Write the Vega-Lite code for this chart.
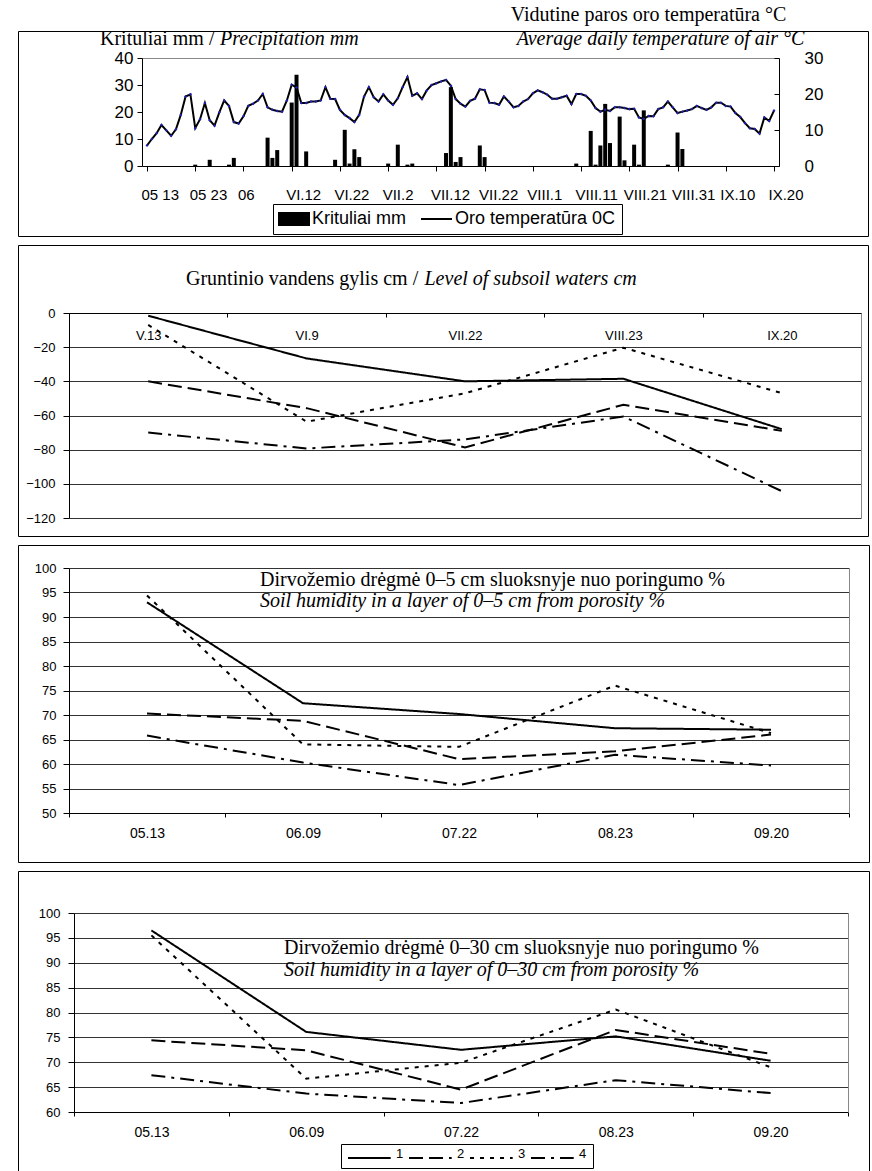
{
  "$schema": "https://vega.github.io/schema/vega-lite/v6.json",
  "background": "white",
  "padding": {"left": 17, "top": 3, "right": 2, "bottom": 0},
  "spacing": 9,
  "bounds": "flush",
  "config": {
    "view": {"stroke": "black", "strokeWidth": 1},
    "font": "Liberation Sans",
    "axis": {"labelFont": "Liberation Sans", "labelColor": "black", "titleFont": "Liberation Serif", "titleColor": "black", "titleFontWeight": "normal", "titleFontSize": 20, "domainColor": "black", "tickColor": "black", "grid": false, "titlePadding": 0},
    "legend": {"labelFont": "Liberation Sans", "labelColor": "black"}
  },
  "datasets": {
    "temp": [
      {"day":0,"temp":5.7},{"day":1,"temp":7.5},{"day":2,"temp":9.1},{"day":3,"temp":11.4},{"day":4,"temp":9.9},{"day":5,"temp":8.4},{"day":6,"temp":10.2},{"day":7,"temp":14.2},{"day":8,"temp":19.3},{"day":9,"temp":19.9},
      {"day":10,"temp":10.5},{"day":11,"temp":13.0},{"day":12,"temp":17.5},{"day":13,"temp":12.7},{"day":14,"temp":11.2},{"day":15,"temp":14.9},{"day":16,"temp":18.2},{"day":17,"temp":16.7},{"day":18,"temp":12.2},{"day":19,"temp":11.8},
      {"day":20,"temp":13.8},{"day":21,"temp":16.7},{"day":22,"temp":17.3},{"day":23,"temp":18.2},{"day":24,"temp":20.0},{"day":25,"temp":16.3},{"day":26,"temp":15.6},{"day":27,"temp":15.3},{"day":28,"temp":15.1},{"day":29,"temp":18.2},
      {"day":30,"temp":22.6},{"day":31,"temp":21.8},{"day":32,"temp":17.5},{"day":33,"temp":17.5},{"day":34,"temp":17.9},{"day":35,"temp":17.9},{"day":36,"temp":18.2},{"day":37,"temp":21.9},{"day":38,"temp":18.7},{"day":39,"temp":18.6},
      {"day":40,"temp":15.6},{"day":41,"temp":14.2},{"day":42,"temp":13.3},{"day":43,"temp":12.2},{"day":44,"temp":14.2},{"day":45,"temp":19.3},{"day":46,"temp":21.9},{"day":47,"temp":19.1},{"day":48,"temp":17.9},{"day":49,"temp":19.9},
      {"day":50,"temp":18.2},{"day":51,"temp":17.0},{"day":52,"temp":18.8},{"day":53,"temp":21.9},{"day":54,"temp":24.7},{"day":55,"temp":19.5},{"day":56,"temp":20.2},{"day":57,"temp":18.6},{"day":58,"temp":21.0},{"day":59,"temp":22.5},
      {"day":60,"temp":23.0},{"day":61,"temp":23.5},{"day":62,"temp":23.9},{"day":63,"temp":22.3},{"day":64,"temp":18.6},{"day":65,"temp":17.3},{"day":66,"temp":16.5},{"day":67,"temp":18.1},{"day":68,"temp":18.7},{"day":69,"temp":21.3},
      {"day":70,"temp":21.1},{"day":71,"temp":17.6},{"day":72,"temp":17.5},{"day":73,"temp":17.0},{"day":74,"temp":19.3},{"day":75,"temp":17.9},{"day":76,"temp":16.3},{"day":77,"temp":16.7},{"day":78,"temp":17.9},{"day":79,"temp":18.6},
      {"day":80,"temp":20.2},{"day":81,"temp":21.0},{"day":82,"temp":20.5},{"day":83,"temp":19.8},{"day":84,"temp":18.7},{"day":85,"temp":18.7},{"day":86,"temp":19.1},{"day":87,"temp":19.5},{"day":88,"temp":17.2},{"day":89,"temp":20.0},
      {"day":90,"temp":20.0},{"day":91,"temp":19.5},{"day":92,"temp":18.2},{"day":93,"temp":16.1},{"day":94,"temp":15.1},{"day":95,"temp":15.6},{"day":96,"temp":15.3},{"day":97,"temp":16.3},{"day":98,"temp":16.3},{"day":99,"temp":16.1},
      {"day":100,"temp":15.8},{"day":101,"temp":15.9},{"day":102,"temp":13.5},{"day":103,"temp":13.1},{"day":104,"temp":13.9},{"day":105,"temp":13.8},{"day":106,"temp":15.8},{"day":107,"temp":16.3},{"day":108,"temp":17.9},{"day":109,"temp":16.3},
      {"day":110,"temp":14.7},{"day":111,"temp":15.1},{"day":112,"temp":15.4},{"day":113,"temp":15.8},{"day":114,"temp":16.7},{"day":115,"temp":16.1},{"day":116,"temp":15.6},{"day":117,"temp":16.3},{"day":118,"temp":17.6},{"day":119,"temp":17.6},
      {"day":120,"temp":16.7},{"day":121,"temp":16.5},{"day":122,"temp":14.7},{"day":123,"temp":13.6},{"day":124,"temp":11.9},{"day":125,"temp":10.5},{"day":126,"temp":10.3},{"day":127,"temp":9.0},{"day":128,"temp":13.5},{"day":129,"temp":12.5},
      {"day":130,"temp":15.4}
    ],
    "precip": [
      {"day":10,"mm":0.5},{"day":13,"mm":2.3},{"day":17,"mm":0.5},{"day":18,"mm":3.0},{"day":25,"mm":10.5},{"day":26,"mm":3.0},{"day":27,"mm":5.9},
      {"day":30,"mm":23.5},{"day":31,"mm":33.8},{"day":33,"mm":5.4},{"day":39,"mm":2.3},{"day":41,"mm":13.4},{"day":42,"mm":0.9},{"day":43,"mm":6.2},{"day":44,"mm":3.3},
      {"day":50,"mm":0.9},{"day":52,"mm":7.9},{"day":54,"mm":0.5},{"day":55,"mm":0.9},{"day":62,"mm":4.8},{"day":63,"mm":29.2},{"day":64,"mm":1.5},{"day":65,"mm":3.3},
      {"day":69,"mm":7.6},{"day":70,"mm":3.3},{"day":89,"mm":0.9},{"day":92,"mm":13.0},{"day":93,"mm":0.5},{"day":94,"mm":7.6},{"day":95,"mm":23.0},{"day":96,"mm":8.5},
      {"day":98,"mm":18.3},{"day":99,"mm":2.1},{"day":101,"mm":7.9},{"day":102,"mm":0.5},{"day":103,"mm":20.6},{"day":108,"mm":0.5},{"day":110,"mm":12.4},{"day":111,"mm":6.3}
    ],
    "gw": [
      {"date":"V.13","series":"1","cm":-1.6},{"date":"VI.9","series":"1","cm":-26.6},{"date":"VII.22","series":"1","cm":-40},{"date":"VIII.23","series":"1","cm":-38.5},{"date":"IX.20","series":"1","cm":-68},
      {"date":"V.13","series":"2","cm":-40},{"date":"VI.9","series":"2","cm":-55.7},{"date":"VII.22","series":"2","cm":-78.7},{"date":"VIII.23","series":"2","cm":-53.7},{"date":"IX.20","series":"2","cm":-69},
      {"date":"V.13","series":"3","cm":-7},{"date":"VI.9","series":"3","cm":-63.6},{"date":"VII.22","series":"3","cm":-47},{"date":"VIII.23","series":"3","cm":-20.3},{"date":"IX.20","series":"3","cm":-46.9},
      {"date":"V.13","series":"4","cm":-70},{"date":"VI.9","series":"4","cm":-79.3},{"date":"VII.22","series":"4","cm":-74},{"date":"VIII.23","series":"4","cm":-60.6},{"date":"IX.20","series":"4","cm":-104.3}
    ],
    "h5": [
      {"date":"05.13","series":"1","pct":93.0},{"date":"06.09","series":"1","pct":72.4},{"date":"07.22","series":"1","pct":70.2},{"date":"08.23","series":"1","pct":67.3},{"date":"09.20","series":"1","pct":67.0},
      {"date":"05.13","series":"2","pct":70.3},{"date":"06.09","series":"2","pct":68.8},{"date":"07.22","series":"2","pct":61.0},{"date":"08.23","series":"2","pct":62.6},{"date":"09.20","series":"2","pct":66.0},
      {"date":"05.13","series":"3","pct":94.4},{"date":"06.09","series":"3","pct":64.0},{"date":"07.22","series":"3","pct":63.5},{"date":"08.23","series":"3","pct":76.0},{"date":"09.20","series":"3","pct":66.3},
      {"date":"05.13","series":"4","pct":65.8},{"date":"06.09","series":"4","pct":60.3},{"date":"07.22","series":"4","pct":55.7},{"date":"08.23","series":"4","pct":61.9},{"date":"09.20","series":"4","pct":59.7}
    ],
    "h30": [
      {"date":"05.13","series":"1","pct":96.5},{"date":"06.09","series":"1","pct":76.1},{"date":"07.22","series":"1","pct":72.5},{"date":"08.23","series":"1","pct":75.2},{"date":"09.20","series":"1","pct":70.3},
      {"date":"05.13","series":"2","pct":74.4},{"date":"06.09","series":"2","pct":72.4},{"date":"07.22","series":"2","pct":64.5},{"date":"08.23","series":"2","pct":76.5},{"date":"09.20","series":"2","pct":71.7},
      {"date":"05.13","series":"3","pct":95.5},{"date":"06.09","series":"3","pct":66.7},{"date":"07.22","series":"3","pct":69.9},{"date":"08.23","series":"3","pct":80.6},{"date":"09.20","series":"3","pct":69.0},
      {"date":"05.13","series":"4","pct":67.4},{"date":"06.09","series":"4","pct":63.7},{"date":"07.22","series":"4","pct":61.8},{"date":"08.23","series":"4","pct":66.4},{"date":"09.20","series":"4","pct":63.8}
    ]
  },
  "vconcat": [
    {
      "width": 850,
      "height": 205,
      "layer": [
        {
          "data": {"name": "precip"},
          "mark": {"type": "bar", "width": 4},
          "encoding": {
            "x": {"field": "day", "type": "quantitative",
              "scale": {"domain": [0, 130], "range": [124, 761], "nice": false, "zero": false},
              "axis": {"orient": "bottom", "offset": -70, "values": [0,10,20,30,40,50,60,70,80,90,100,110,120,130],
                "labelExpr": "['05 13','05 23','06','VI.12','VI.22','VII.2','VII.12','VII.22','VIII.1','VIII.11','VIII.21','VIII.31','IX.10','IX.20'][round(datum.value / 10)]",
                "labelAlign": "left", "labelOffset": -6, "labelFlush": false, "labelOverlap": false, "labelFontSize": 15, "labelPadding": 16, "tickSize": 5,
                "title": "Precipitation mm", "titleFontStyle": "italic", "titleX": 201.5, "titleY": -121.5, "titleAlign": "left", "titleBaseline": "alphabetic", "titleAngle": 0}},
            "y": {"field": "mm", "type": "quantitative",
              "scale": {"domain": [0, 40], "range": [135, 27], "nice": false},
              "axis": {"orient": "left", "offset": -124, "values": [0,10,20,30,40], "tickSize": 5, "labelFontSize": 17, "labelPadding": 4,
                "title": "Krituliai mm /", "titleX": -42.5, "titleY": 13.5, "titleAlign": "left", "titleBaseline": "alphabetic", "titleAngle": 0}},
            "color": {"datum": "Krituliai mm", "type": "nominal",
              "scale": {"domain": ["Krituliai mm", "Oro temperatūra 0C"], "range": ["black", "black"]},
              "legend": {"orient": "none", "legendX": 255, "legendY": 173, "direction": "horizontal", "title": null,
                "strokeColor": "black", "fillColor": "white", "padding": 6, "labelFontSize": 18, "labelOffset": 15, "columnPadding": 10,
                "symbolSize": 400, "labelLimit": 300,
                "encode": {"symbols": {"update": {
                  "shape": {"signal": "datum.value === 'Krituliai mm' ? 'M-1,-0.7L2.2,-0.7L2.2,0.7L-1,0.7Z' : 'M-1,0L2.1,0'"},
                  "fill": {"signal": "datum.value === 'Krituliai mm' ? 'black' : 'transparent'"},
                  "stroke": {"value": "black"},
                  "strokeWidth": {"signal": "datum.value === 'Krituliai mm' ? 0 : 2"},
                  "size": {"value": 400},
                  "opacity": {"value": 1}
                }}}}}
          }
        },
        {
          "data": {"name": "temp"},
          "mark": {"type": "line", "color": "black", "strokeWidth": 2, "point": {"filled": true, "color": "#2020b8", "size": 9, "shape": "diamond"}},
          "encoding": {
            "x": {"field": "day", "type": "quantitative",
              "scale": {"domain": [0, 130], "range": [124, 761], "nice": false, "zero": false},
              "axis": {"orient": "top", "offset": -27, "ticks": false, "labels": false, "grid": false, "domainColor": "#888",
                "title": "Average daily temperature of air °C", "titleFontStyle": "italic", "titleX": 642, "titleY": -13.5, "titleAlign": "center", "titleBaseline": "alphabetic", "titleAngle": 0}},
            "y": {"field": "temp", "type": "quantitative",
              "scale": {"domain": [0, 30], "range": [135, 27], "nice": false},
              "axis": {"orient": "right", "offset": -89, "values": [0,10,20,30], "tickSize": -5, "labelPadding": 30, "labelFontSize": 17,
                "title": "Vidutine paros oro temperatūra °C", "titleX": -131, "titleY": -10.8, "titleAlign": "center", "titleBaseline": "alphabetic", "titleAngle": 0}}
          }
        }
      ],
      "resolve": {"scale": {"y": "independent"}, "axis": {"x": "independent", "y": "independent"}}
    },
    {
      "width": 850,
      "height": 291,
      "data": {"name": "gw"},
      "layer": [
        {
          "transform": [{"filter": "datum.series == '1' || datum.series == '2'"}],
          "mark": {"type": "line", "color": "black", "strokeWidth": 2},
          "encoding": {
            "x": {"field": "date", "type": "ordinal", "sort": ["V.13","VI.9","VII.22","VIII.23","IX.20"], "bandPosition": 0.5,
              "scale": {"type": "band", "domain": ["V.13","VI.9","VII.22","VIII.23","IX.20"], "range": [51, 843], "paddingInner": 0, "paddingOuter": 0},
              "axis": {"orient": "bottom", "offset": -223, "tickBand": "extent", "tickSize": 4, "labelPadding": 12, "labelFontSize": 13, "labelAngle": 0,
                "title": "Level of subsoil waters cm", "titleFontStyle": "italic", "titleX": 406, "titleY": -28.5, "titleAlign": "left", "titleBaseline": "alphabetic", "titleAngle": 0}},
            "y": {"field": "cm", "type": "quantitative",
              "scale": {"domain": [-120, 0], "range": [273, 68], "nice": false, "zero": false},
              "axis": {"orient": "left", "offset": -51, "values": [-120,-100,-80,-60,-40,-20,0], "grid": true, "gridColor": "#333", "tickSize": 6, "labelPadding": 8, "labelFontSize": 13,
                "title": "Gruntinio vandens gylis cm /", "titleX": 116.5, "titleY": 39.5, "titleAlign": "left", "titleBaseline": "alphabetic", "titleAngle": 0}},
            "strokeDash": {"field": "series", "type": "nominal", "scale": {"domain": ["1","2","3","4"], "range": [[1,0],[14,6],[4,6],[14,6,3,6]]},
              "legend": {"orient": "none", "legendX": 323, "legendY": 1113, "direction": "horizontal", "title": null, "strokeColor": "black", "fillColor": "white", "padding": 6,
                "symbolType": "M-1,0L5.1,0", "symbolSize": 196, "symbolStrokeWidth": 2, "symbolStrokeColor": "black", "symbolFillColor": "transparent",
                "labelFontSize": 13, "labelOffset": 33, "columnPadding": 1, "labelBaseline": "alphabetic"}}
          }
        },
        {
          "transform": [{"filter": "datum.series == '3' || datum.series == '4'"}],
          "mark": {"type": "line", "color": "black", "strokeWidth": 2},
          "encoding": {
            "x": {"field": "date", "type": "ordinal", "sort": ["V.13","VI.9","VII.22","VIII.23","IX.20"], "bandPosition": 0.5,
              "scale": {"type": "band", "domain": ["V.13","VI.9","VII.22","VIII.23","IX.20"], "range": [51, 843], "paddingInner": 0, "paddingOuter": 0},
              "axis": {"orient": "bottom", "offset": -223, "tickBand": "extent", "tickSize": 4, "labelPadding": 12, "labelFontSize": 13, "labelAngle": 0,
                "title": "Level of subsoil waters cm", "titleFontStyle": "italic", "titleX": 406, "titleY": -28.5, "titleAlign": "left", "titleBaseline": "alphabetic", "titleAngle": 0}},
            "y": {"field": "cm", "type": "quantitative",
              "scale": {"domain": [-120, 0], "range": [273, 68], "nice": false, "zero": false},
              "axis": {"orient": "right", "offset": -7, "ticks": false, "labels": false, "grid": false, "domainColor": "#888", "title": null}},
            "strokeDash": {"field": "series", "type": "nominal", "scale": {"domain": ["1","2","3","4"], "range": [[1,0],[14,6],[4,6],[14,6,3,6]]},
              "legend": {"orient": "none", "legendX": 323, "legendY": 1113, "direction": "horizontal", "title": null, "strokeColor": "black", "fillColor": "white", "padding": 6,
                "symbolType": "M-1,0L5.1,0", "symbolSize": 196, "symbolStrokeWidth": 2, "symbolStrokeColor": "black", "symbolFillColor": "transparent",
                "labelFontSize": 13, "labelOffset": 33, "columnPadding": 1, "labelBaseline": "alphabetic"}}
          }
        }
      ],
      "resolve": {"axis": {"y": "independent"}}
    },
    {
      "width": 851,
      "height": 317,
      "data": {"name": "h5"},
      "layer": [
        {
          "transform": [{"filter": "datum.series == '1' || datum.series == '2'"}],
          "mark": {"type": "line", "color": "black", "strokeWidth": 2},
          "encoding": {
            "x": {"field": "date", "type": "ordinal", "sort": ["05.13","06.09","07.22","08.23","09.20"], "bandPosition": 0.5,
              "scale": {"type": "band", "domain": ["05.13","06.09","07.22","08.23","09.20"], "range": [51, 831], "paddingInner": 0, "paddingOuter": 0},
              "axis": {"orient": "bottom", "offset": -49, "tickBand": "extent", "tickSize": 4, "labelPadding": 9, "labelFontSize": 14, "labelAngle": 0, "title": null}},
            "y": {"field": "pct", "type": "quantitative",
              "scale": {"domain": [50, 100], "range": [268, 23], "nice": false, "zero": false},
              "axis": {"orient": "left", "offset": -51, "values": [50,55,60,65,70,75,80,85,90,95,100], "grid": true, "gridColor": "#333", "tickSize": 6, "labelPadding": 7, "labelFontSize": 13,
                "title": "Dirvožemio drėgmė 0–5 cm sluoksnyje nuo poringumo %", "titleX": 190.5, "titleY": 40.2, "titleAlign": "left", "titleBaseline": "alphabetic", "titleAngle": 0, "titleLimit": 800}},
            "strokeDash": {"field": "series", "type": "nominal", "scale": {"domain": ["1","2","3","4"], "range": [[1,0],[14,6],[4,6],[14,6,3,6]]},
              "legend": {"orient": "none", "legendX": 323, "legendY": 1113, "direction": "horizontal", "title": null, "strokeColor": "black", "fillColor": "white", "padding": 6,
                "symbolType": "M-1,0L5.1,0", "symbolSize": 196, "symbolStrokeWidth": 2, "symbolStrokeColor": "black", "symbolFillColor": "transparent",
                "labelFontSize": 13, "labelOffset": 33, "columnPadding": 1, "labelBaseline": "alphabetic"}}
          }
        },
        {
          "transform": [{"filter": "datum.series == '3' || datum.series == '4'"}],
          "mark": {"type": "line", "color": "black", "strokeWidth": 2},
          "encoding": {
            "x": {"field": "date", "type": "ordinal", "sort": ["05.13","06.09","07.22","08.23","09.20"], "bandPosition": 0.5,
              "scale": {"type": "band", "domain": ["05.13","06.09","07.22","08.23","09.20"], "range": [51, 831], "paddingInner": 0, "paddingOuter": 0},
              "axis": {"orient": "bottom", "offset": -49, "tickBand": "extent", "tickSize": 4, "labelPadding": 9, "labelFontSize": 14, "labelAngle": 0, "title": null}},
            "y": {"field": "pct", "type": "quantitative",
              "scale": {"domain": [50, 100], "range": [268, 23], "nice": false, "zero": false},
              "axis": {"orient": "right", "offset": -20, "ticks": false, "labels": false, "grid": false, "domainColor": "#888",
                "title": "Soil humidity in a layer of 0–5 cm from porosity %", "titleFontStyle": "italic", "titleX": -589.5, "titleY": 61.8, "titleAlign": "left", "titleBaseline": "alphabetic", "titleAngle": 0, "titleLimit": 800}},
            "strokeDash": {"field": "series", "type": "nominal", "scale": {"domain": ["1","2","3","4"], "range": [[1,0],[14,6],[4,6],[14,6,3,6]]},
              "legend": {"orient": "none", "legendX": 323, "legendY": 1113, "direction": "horizontal", "title": null, "strokeColor": "black", "fillColor": "white", "padding": 6,
                "symbolType": "M-1,0L5.1,0", "symbolSize": 196, "symbolStrokeWidth": 2, "symbolStrokeColor": "black", "symbolFillColor": "transparent",
                "labelFontSize": 13, "labelOffset": 33, "columnPadding": 1, "labelBaseline": "alphabetic"}}
          }
        }
      ],
      "resolve": {"axis": {"y": "independent"}}
    },
    {
      "width": 851,
      "height": 303,
      "data": {"name": "h30"},
      "layer": [
        {
          "transform": [{"filter": "datum.series == '1' || datum.series == '2'"}],
          "mark": {"type": "line", "color": "black", "strokeWidth": 2},
          "encoding": {
            "x": {"field": "date", "type": "ordinal", "sort": ["05.13","06.09","07.22","08.23","09.20"], "bandPosition": 0.5,
              "scale": {"type": "band", "domain": ["05.13","06.09","07.22","08.23","09.20"], "range": [56, 830], "paddingInner": 0, "paddingOuter": 0},
              "axis": {"orient": "bottom", "offset": -62, "tickBand": "extent", "tickSize": 4, "labelPadding": 9, "labelFontSize": 14, "labelAngle": 0, "title": null}},
            "y": {"field": "pct", "type": "quantitative",
              "scale": {"domain": [60, 100], "range": [241, 42], "nice": false, "zero": false},
              "axis": {"orient": "left", "offset": -56, "values": [60,65,70,75,80,85,90,95,100], "grid": true, "gridColor": "#333", "tickSize": 6, "labelPadding": 8, "labelFontSize": 13,
                "title": "Dirvožemio drėgmė 0–30 cm sluoksnyje nuo poringumo %", "titleX": 209.5, "titleY": 82.5, "titleAlign": "left", "titleBaseline": "alphabetic", "titleAngle": 0, "titleLimit": 800}},
            "strokeDash": {"field": "series", "type": "nominal", "scale": {"domain": ["1","2","3","4"], "range": [[1,0],[14,6],[4,6],[14,6,3,6]]},
              "legend": {"orient": "none", "legendX": 323, "legendY": 1113, "direction": "horizontal", "title": null, "strokeColor": "black", "fillColor": "white", "padding": 6,
                "symbolType": "M-1,0L5.1,0", "symbolSize": 196, "symbolStrokeWidth": 2, "symbolStrokeColor": "black", "symbolFillColor": "transparent",
                "labelFontSize": 13, "labelOffset": 33, "columnPadding": 1, "labelBaseline": "alphabetic"}}
          }
        },
        {
          "transform": [{"filter": "datum.series == '3' || datum.series == '4'"}],
          "mark": {"type": "line", "color": "black", "strokeWidth": 2},
          "encoding": {
            "x": {"field": "date", "type": "ordinal", "sort": ["05.13","06.09","07.22","08.23","09.20"], "bandPosition": 0.5,
              "scale": {"type": "band", "domain": ["05.13","06.09","07.22","08.23","09.20"], "range": [56, 830], "paddingInner": 0, "paddingOuter": 0},
              "axis": {"orient": "bottom", "offset": -62, "tickBand": "extent", "tickSize": 4, "labelPadding": 9, "labelFontSize": 14, "labelAngle": 0, "title": null}},
            "y": {"field": "pct", "type": "quantitative",
              "scale": {"domain": [60, 100], "range": [241, 42], "nice": false, "zero": false},
              "axis": {"orient": "right", "offset": -21, "ticks": false, "labels": false, "grid": false, "domainColor": "#888",
                "title": "Soil humidity in a layer of 0–30 cm from porosity %", "titleFontStyle": "italic", "titleX": -564.5, "titleY": 104.2, "titleAlign": "left", "titleBaseline": "alphabetic", "titleAngle": 0, "titleLimit": 800}},
            "strokeDash": {"field": "series", "type": "nominal", "scale": {"domain": ["1","2","3","4"], "range": [[1,0],[14,6],[4,6],[14,6,3,6]]},
              "legend": {"orient": "none", "legendX": 323, "legendY": 1113, "direction": "horizontal", "title": null, "strokeColor": "black", "fillColor": "white", "padding": 6,
                "symbolType": "M-1,0L5.1,0", "symbolSize": 196, "symbolStrokeWidth": 2, "symbolStrokeColor": "black", "symbolFillColor": "transparent",
                "labelFontSize": 13, "labelOffset": 33, "columnPadding": 1, "labelBaseline": "alphabetic"}}
          }
        }
      ],
      "resolve": {"axis": {"y": "independent"}}
    }
  ]
}
